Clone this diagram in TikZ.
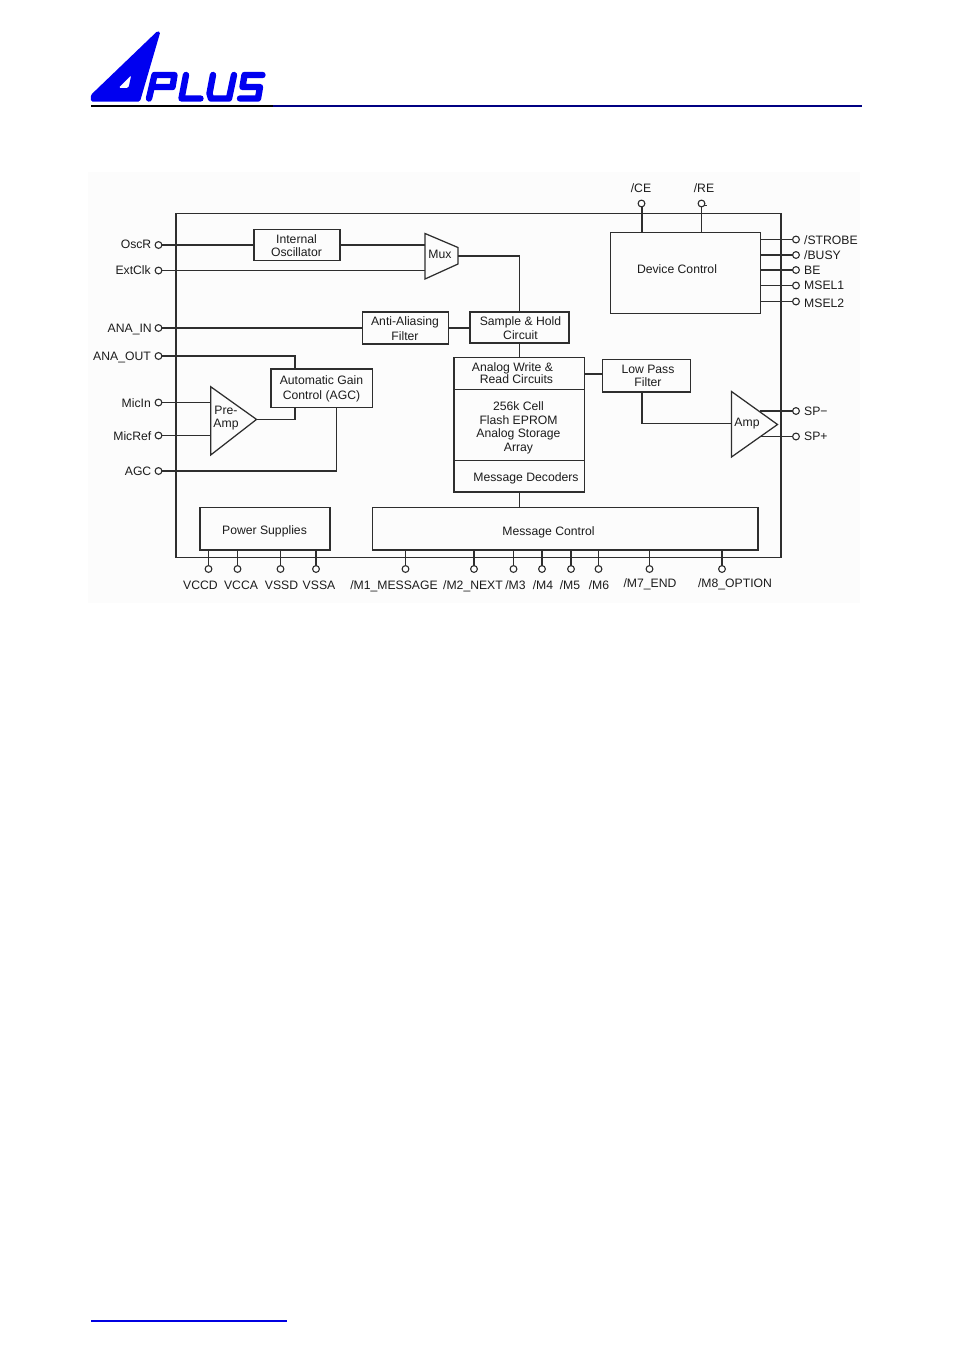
\documentclass[tikz,border=0pt]{standalone}
\usepackage{fontspec}
\setmainfont{Liberation Sans}
\definecolor{ln}{HTML}{2E2E2E}
\definecolor{tx}{HTML}{1C1C1C}
\definecolor{lg}{HTML}{0000F0}
\tikzset{
  conn/.style={draw=ln,line width=1.25pt},
  txt/.style={font=\fontsize{12.2pt}{13.5pt}\selectfont,text=tx,inner sep=0pt,align=center},
  lbl/.style={txt,text height=8.7pt,text depth=0pt},
  pin/.style={circle,draw=ln,line width=1.1pt,fill=white,minimum size=6.8pt,inner sep=0pt,outer sep=0pt},
  logo/.style={draw=lg,line width=6.4pt,line join=round,line cap=round},
}
\newcommand{\bx}[5]{\node[draw=ln,line width=1.25pt,inner sep=0pt,outer sep=0pt,
  minimum width=#4pt-#2pt,minimum height=#5pt-#3pt] (#1) at ({(#2+#4)/2},{(#3+#5)/2}) {};}
\begin{document}
\begin{tikzpicture}[x=1pt,y=-1pt]
\useasboundingbox (0,0) rectangle (954,1350);
\fill[white] (0,0) rectangle (954,1350);
\fill[black!1] (88,172) rectangle (860,603);
% logo
\fill[lg,rounded corners=1.5pt,even odd rule]
  (90.8,95) -- (157.5,31) -- (160.3,32) -- (140,101.5) -- (90.8,101.5) -- cycle
  (131.3,75) -- (118.5,88) -- (128.5,88) -- cycle;
\draw[logo] (149,98.5) -- (154.5,75) -- (174.5,75) -- (172.5,87) -- (152,87);
\draw[logo] (186,75) -- (181.5,98.5) -- (200.5,98.5);
\draw[logo] (213,75) -- (209.5,93.5) -- (211,98.5) -- (229,98.5) -- (234,75);
\draw[logo] (262.5,75) -- (244.5,75) -- (242.5,87) -- (260,87) -- (258,98.5) -- (240,98.5);
\draw[line width=2pt,color={rgb,255:red,0;green,0;blue,130}] (91,105.5) -- (862,105.5);
\draw[line width=2pt,black] (91,105.5) -- (273,105.5);
\draw[line width=1.4pt,color={rgb,255:red,0;green,0;blue,225}] (91,1321) -- (287,1321);
% boxes
\bx{chip}{176}{213.3}{781}{557.3}
\bx{osc}{254}{229.5}{340}{260.5}
\bx{aaf}{362.5}{312}{448.5}{344}
\bx{sh}{470}{312}{569}{343}
\bx{rw}{454}{357.5}{584.5}{389.5}
\bx{arr}{454}{389.5}{584.5}{460.5}
\bx{dec}{454}{460.5}{584.5}{492}
\bx{lpf}{602.5}{359.5}{690.5}{392}
\bx{dev}{610.7}{232.5}{760.3}{313.7}
\bx{agcb}{271}{369}{372.5}{407.5}
\bx{ps}{200}{507.5}{330}{550}
\bx{mc}{372.5}{507.5}{758}{550}
% triangles
\coordinate (muxin1) at (425,245); \coordinate (muxin2) at (425,270.5); \coordinate (muxout) at (458,256);
\draw[conn,fill=none,line join=miter] (425,233.5) -- (458,247.5) -- (458,264) -- (425,279) -- cycle;
\coordinate (pre1) at (210.7,402.5); \coordinate (pre2) at (210.7,435.5); \coordinate (preout) at (256,419.5);
\draw[conn] (210.7,386.7) -- (256.5,419.4) -- (210.7,455) -- cycle;
\coordinate (ampin) at (731.5,423.5); \coordinate (ampm) at (760,411); \coordinate (ampp) at (760,436.5);
\draw[conn] (731.5,391.5) -- (777.5,424.5) -- (731.5,457) -- cycle;
% pins left
\node[pin] (oscr) at (158.5,245) {};
\node[pin] (extclk) at (158.5,270.5) {};
\node[pin] (anain) at (158.5,328) {};
\node[pin] (anaout) at (158.5,356) {};
\node[pin] (micin) at (158.5,402.5) {};
\node[pin] (micref) at (158.5,435.5) {};
\node[pin] (agcp) at (158.5,471) {};
% pins right
\node[pin] (strobe) at (796,239.5) {};
\node[pin] (busy) at (796,255) {};
\node[pin] (be) at (796,270) {};
\node[pin] (msela) at (796,285.5) {};
\node[pin] (mselb) at (796,301.5) {};
\node[pin] (spm) at (796,411) {};
\node[pin] (spp) at (796,436.5) {};
% pins top
\node[pin] (ce) at (641.5,203.5) {};
\node[pin] (re) at (701.5,203.5) {};
% pins bottom
\foreach \n/\x in {vccd/208.5,vcca/237.5,vssd/280.5,vssa/316,ma/405.5,mb/474,mc3/513.5,md/542,me/571,mf/598.5,mg/649.5,mh/722}
  \node[pin] (\n) at (\x,569) {};
% connectors
\draw[conn] (oscr.east) -- (oscr.east -| osc.west);
\draw[conn] (osc.east |- muxin1) -- (muxin1);
\draw[conn] (extclk.east) -- (muxin2);
\draw[conn] (muxout) -| (sh.north -| 519.5,0);
\draw[conn] (anain.east) -- (anain.east -| aaf.west);
\draw[conn] (aaf.east) -- (aaf.east -| sh.west);
\draw[conn] (519.5,343) -- (519.5,357.5);
\draw[conn] (rw.east |- 0,374) -- (lpf.west |- 0,374);
\draw[conn] (642,392) -- (642,423.5) -- (ampin);
\draw[conn] (ampm) -- (spm.west);
\draw[conn] (ampp) -- (spp.west);
\draw[conn] (anaout.east) -- (295,356) -- (295,369);
\draw[conn] (295,407.5) -- (295,419.5) -- (preout);
\draw[conn] (micin.east) -- (pre1);
\draw[conn] (micref.east) -- (pre2);
\draw[conn] (agcp.east) -- (336.5,471) -- (336.5,407.5);
\foreach \n in {strobe,busy,be,msela,mselb} \draw[conn] (\n.west) -- (\n.west -| dev.east);
\draw[conn] (ce.south) ++(0.5,0) -- (642,232.5);
\draw[conn] (re.south) -- (701.5,232.5);
\draw[conn,line width=1.4pt] (703.5,205.3) -- (707,205.3);
\draw[conn] (519.5,492) -- (519.5,507.5);
\foreach \n in {vccd,vcca,vssd,vssa} \draw[conn] (\n.north) -- (\n.north |- ps.south);
\foreach \n in {ma,mb,mc3,md,me,mf,mg,mh} \draw[conn] (\n.north) -- (\n.north |- mc.south);
% texts in the blocks
\node[txt] (t1) at (296.5,245.4) {Internal\\Oscillator};
\node[txt] (t2) at (440,254) {Mux};
\node[txt,font=\fontsize{12.2pt}{14.6pt}\selectfont] (t3) at (405,328.5) {Anti-Aliasing\\Filter};
\node[txt] (t4) at (520.5,328) {Sample \& Hold\\Circuit};
\node[txt,font=\fontsize{12.2pt}{12.3pt}\selectfont,align=left] (t5) at (512.5,373) {Analog Write \&\\\hspace{8pt}Read Circuits};
\node[txt] (t6) at (518.5,428) {256k Cell\\Flash EPROM\\Analog Storage\\Array};
\node[txt] (t7) at (526,478.5) {Message Decoders};
\node[txt] (t8) at (648,376) {Low Pass\\Filter};
\node[txt] (t9) at (677,269) {Device Control};
\node[txt,font=\fontsize{12.2pt}{14.6pt}\selectfont] (t10) at (321.5,389) {Automatic Gain\\Control (AGC)};
\node[txt] (t11) at (226,418) {Pre-\\Amp};
\node[txt] (t12) at (747,424) {Amp};
\node[txt] (t13) at (264.5,531.5) {Power Supplies};
\node[txt] (t14) at (548.5,532.5) {Message Control};
% pin labels
\foreach \nm/\x/\y/\s in {a/151.5/244/OscR,b/151/270.5/ExtClk,c/152/328/{ANA\_IN},d/151/356/{ANA\_OUT},e/151/403/MicIn,f/151.5/436/MicRef,g/151.5/471.5/AGC}
  \node[lbl,anchor=east] (l\nm) at (\x,\y) {\s};
\foreach \nm/\y/\s in {h/240.5/{/STROBE},i/255.5/{/BUSY},j/270.5/BE,k/285.5/MSEL1,l/303/MSEL2,m/411/SP−,n/436.5/SP+}
  \node[lbl,anchor=west] (l\nm) at (804,\y) {\s};
\node[lbl] (lce) at (641,188) {/CE};
\node[lbl] (lre) at (704,188) {/RE};
\foreach \nm/\x/\y/\s in {o/200.5/585/VCCD,p/241/585/VCCA,q/281.5/585/VSSD,r/319/585/VSSA,s/394/585/{/M1\_MESSAGE},t/473/585/{/M2\_NEXT},u/515.5/585/{/M3},v/543/585/{/M4},w/570/585/{/M5},x/599/585/{/M6},y/650/583/{/M7\_END},z/735/583/{/M8\_OPTION}}
  \node[lbl] (l\nm) at (\x,\y) {\s};
\end{tikzpicture}
\end{document}
